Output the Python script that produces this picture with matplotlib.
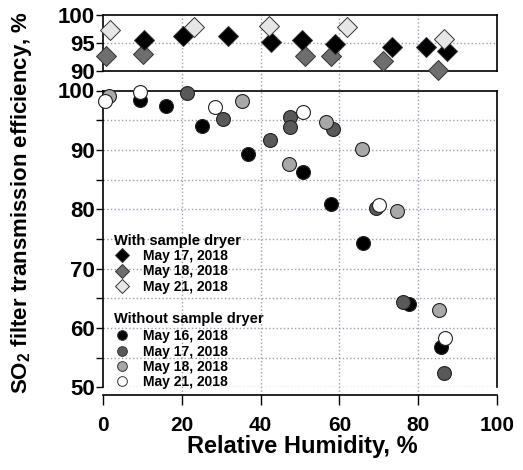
import matplotlib
matplotlib.use("Agg")
import matplotlib.pyplot as plt
from matplotlib.lines import Line2D
from matplotlib.transforms import blended_transform_factory

plt.rcParams['font.family'] = ['Liberation Sans', 'DejaVu Sans']
plt.rcParams['font.weight'] = 'bold'
plt.rcParams['mathtext.default'] = 'regular'

# ---- data: with sample dryer (top panel) ----
dry17_rh = [10.4, 20.4, 31.8, 42.6, 50.4, 58.9, 73.3, 82.0, 87.4]
dry17_eff = [95.5, 96.25, 96.25, 95.2, 95.5, 94.8, 94.2, 94.3, 93.6]
dry18_rh = [0.8, 10.1, 51.3, 57.8, 71.0, 85.1]
dry18_eff = [92.7, 93.0, 92.6, 92.6, 91.8, 90.2]
dry21_rh = [1.8, 23.2, 42.2, 62.0, 86.6]
dry21_eff = [97.3, 97.9, 98.0, 97.8, 95.7]

# ---- data: without sample dryer (main panel) ----
nod16_rh = [9.4, 16.0, 25.1, 36.8, 50.7, 57.8, 65.9, 77.7, 85.7]
nod16_eff = [98.4, 97.4, 94.0, 89.3, 86.3, 80.9, 74.3, 64.1, 56.8]
nod17_rh = [21.3, 30.4, 42.3, 47.5, 47.5, 58.3, 69.3, 76.2, 86.6]
nod17_eff = [99.6, 95.2, 91.7, 95.5, 93.9, 93.5, 80.2, 64.4, 52.4]
nod18_rh = [1.6, 35.2, 47.2, 56.6, 65.8, 74.7, 85.4]
nod18_eff = [99.0, 98.2, 87.6, 94.7, 90.2, 79.7, 63.0]
nod21_rh = [0.4, 9.4, 28.4, 50.7, 70.0, 86.7]
nod21_eff = [98.3, 99.8, 97.2, 96.3, 80.7, 58.3]

x_ticks = [0, 20, 40, 60, 80, 100]
main_yticks = [50, 60, 70, 80, 90, 100]
top_yticks = [90, 95, 100]

grid_col = '#9c9cb4'
c_black, c_dark, c_light, c_white = '#000000', '#595959', '#a8a8a8', '#ffffff'
d_black, d_gray, d_light = '#000000', '#6e6e6e', '#e6e6e6'

fig = plt.figure(figsize=(5.23, 4.70), dpi=100)
W, H = 523, 470
L, R = 103, 497
ax_top = fig.add_axes([L / W, 1 - 71 / H, (R - L) / W, 56 / H])
ax = fig.add_axes([L / W, 1 - 387.3 / H, (R - L) / W, (387.3 - 90.5) / H])

# ---- top panel ----
ax_top.set_xlim(0, 100)
ax_top.set_ylim(90, 100)
ax_top.set_yticks(top_yticks)
ax_top.set_xticks([])
ax_top.axhline(95, color=grid_col, ls=':', lw=1, zorder=0)
for xv in x_ticks[1:-1]:
    ax_top.axvline(xv, color=grid_col, ls=':', lw=1, zorder=0)
dk = dict(marker='D', ls='none', ms=10, mec='#333333', mew=0.7, clip_on=False)
ax_top.plot(dry18_rh, dry18_eff, mfc=d_gray, zorder=3, **dk)
ax_top.plot(dry17_rh, dry17_eff, mfc=d_black, zorder=4, **dk)
ax_top.plot(dry21_rh, dry21_eff, mfc=d_light, zorder=5, **dk)
ax_top.tick_params(axis='y', direction='out', length=5, width=1, labelsize=16, pad=1)
for s in ax_top.spines.values():
    s.set_linewidth(1.2)

# ---- main panel ----
ax.set_xlim(0, 100)
ax.set_ylim(50, 100)
ax.set_yticks(main_yticks)
ax.set_yticks(list(range(55, 100, 10)), minor=True)
ax.set_xticks(x_ticks)
for yv in range(50, 100, 5):
    ax.axhline(yv, color=grid_col, ls=':', lw=1, zorder=0)
tr = blended_transform_factory(ax.transData, ax.transAxes)
for xv in x_ticks[1:-1]:
    ax.add_line(Line2D([xv, xv], [-0.026, 1.066], transform=tr, color=grid_col,
                       ls=':', lw=1, zorder=0, clip_on=False))
ck = dict(marker='o', ls='none', ms=10, mec='#222222', mew=0.8, clip_on=False)
ax.plot(nod16_rh, nod16_eff, mfc=c_black, zorder=3, **ck)
ax.plot(nod17_rh, nod17_eff, mfc=c_dark, zorder=4, **ck)
ax.plot(nod18_rh, nod18_eff, mfc=c_light, zorder=5, **ck)
ax.plot(nod21_rh, nod21_eff, mfc=c_white, zorder=6, **ck)

ax.spines['bottom'].set_position(('outward', 5.5))
for s in ax.spines.values():
    s.set_linewidth(1.2)
ax.tick_params(axis='y', which='both', direction='out', length=5, width=1, labelsize=16, pad=1)
ax.tick_params(axis='x', direction='out', length=7, width=1, labelsize=15, pad=8)

# legends
h1 = [Line2D([], [], marker='D', ls='none', ms=7, mfc=c, mec='#333333', mew=0.7)
      for c in (d_black, d_gray, d_light)]
leg1 = ax.legend(h1, ['May 17, 2018', 'May 18, 2018', 'May 21, 2018'],
                 title='With sample dryer', loc='upper left',
                 bbox_to_anchor=(0.0, 0.555), frameon=False, fontsize=10,
                 title_fontsize=10.5, alignment='left', handletextpad=0.9,
                 labelspacing=0.1, borderpad=0.3, handlelength=1.2)
leg1._legend_box.sep = 1
ax.add_artist(leg1)
h2 = [Line2D([], [], marker='o', ls='none', ms=7, mfc=c, mec='#333333', mew=0.7)
      for c in (c_black, c_dark, c_light, c_white)]
leg2 = ax.legend(h2, ['May 16, 2018', 'May 17, 2018', 'May 18, 2018', 'May 21, 2018'],
                 title='Without sample dryer', loc='upper left',
                 bbox_to_anchor=(0.0, 0.29), frameon=False, fontsize=10,
                 title_fontsize=10.5, alignment='left', handletextpad=0.9,
                 labelspacing=0.1, borderpad=0.3, handlelength=1.2)
leg2._legend_box.sep = 2

fig.text(302 / W, 1 - 446 / H, 'Relative Humidity, %', ha='center', va='center',
         fontsize=17, fontweight='bold')
fig.text(22 / W, 1 - 202 / H, 'SO$_2$ filter transmission efficiency, %', ha='center',
         va='center', rotation=90, fontsize=16, fontweight='bold')

fig.savefig('out.png', dpi=100)
